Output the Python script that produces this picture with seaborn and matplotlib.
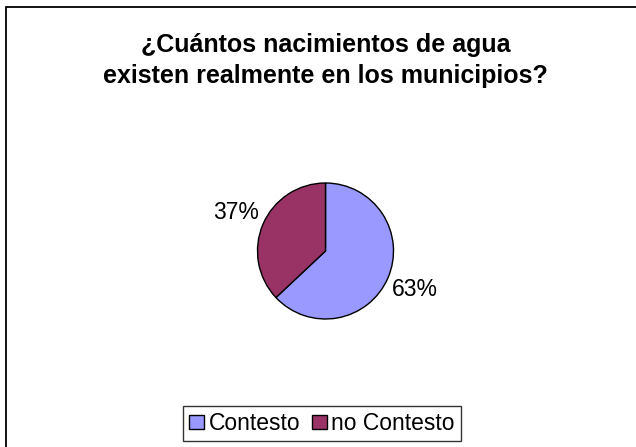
import matplotlib
matplotlib.use("Agg")
import matplotlib.pyplot as plt
from matplotlib.patches import Rectangle
import seaborn as sns

# Survey answers: share of municipalities that answered the question
categories = ["Contesto", "no Contesto"]
shares = [63, 37]
slice_colors = ["#9999FF", "#993366"]
title_lines = ["¿Cuántos nacimientos de agua", "existen realmente en los municipios?"]

sns.set_style("white")
plt.rcParams["font.family"] = ["Liberation Sans", "DejaVu Sans"]
plt.rcParams["text.color"] = "black"

W, H = 636, 447
fig = plt.figure(figsize=(W / 100, H / 100), dpi=100)
fig.patch.set_facecolor("white")

# Outer chart frame (runs off the right and bottom edges)
fig.add_artist(Rectangle((6 / W, -0.05), 1.2, 1 - 7 / H + 0.05,
                         transform=fig.transFigure, fill=False,
                         edgecolor="black", linewidth=1.3))

# Title, two centred lines
fig.text(325.5 / W, 1 - 52 / H, title_lines[0], ha="center", va="baseline",
         fontsize=18, fontweight="bold", color="black")
fig.text(325 / W, 1 - 83 / H, title_lines[1], ha="center", va="baseline",
         fontsize=18, fontweight="bold", color="black")

# Pie axes: square box around the pie centre
cx, cy, r = 325.5, 251, 68
ax = fig.add_axes([(cx - r) / W, (H - cy - r) / H, 2 * r / W, 2 * r / H])
wedges, texts, autotexts = ax.pie(
    shares, colors=slice_colors, startangle=90, counterclock=False,
    autopct="%1.0f%%", pctdistance=1.43, radius=1,
    wedgeprops=dict(edgecolor="black", linewidth=1.0),
    textprops=dict(fontsize=16.5, color="black"),
)
ax.set_xlim(-1, 1)
ax.set_ylim(-1, 1)
ax.set_axis_off()

leg = fig.legend(wedges, categories, loc="center",
                 bbox_to_anchor=(322 / W, 1 - 423.5 / H), ncol=2,
                 fontsize=16.5, frameon=True, fancybox=False, shadow=False,
                 handlelength=0.65, handleheight=0.6, handletextpad=0.2,
                 columnspacing=0.5, borderpad=0.25, borderaxespad=0)
leg.get_frame().set_edgecolor("black")
leg.get_frame().set_linewidth(1.0)
for t in leg.get_texts():
    t.set_color("black")
for h in leg.legend_handles:
    h.set_edgecolor("black")
    h.set_linewidth(1.0)

fig.savefig("out.png", dpi=100, facecolor="white")
